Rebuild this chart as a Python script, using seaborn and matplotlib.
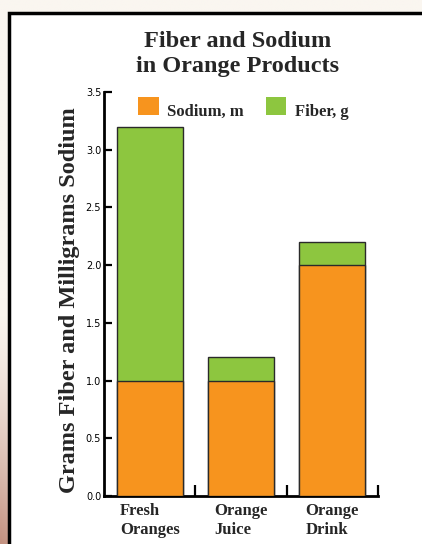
import numpy as np
import pandas as pd
import matplotlib
matplotlib.use("Agg")
import matplotlib.pyplot as plt
from matplotlib.patches import Rectangle, Patch
from matplotlib.transforms import ScaledTranslation
import seaborn as sns

# Chart data
products = ["Fresh\nOranges", "Orange\nJuice", "Orange\nDrink"]
sodium_mg = [1.0, 1.0, 2.0]
fiber_g = [2.2, 0.2, 0.2]
y_ticks = [0.0, 0.5, 1.0, 1.5, 2.0, 2.5, 3.0, 3.5]

ORANGE = "#F7941E"
GREEN = "#8DC63F"
EDGE = "#2a2a2a"

sns.set_theme(style="white")
plt.rcParams["font.family"] = ["Liberation Serif", "DejaVu Serif"]

W, H = 422, 544
fig = plt.figure(figsize=(W / 100, H / 100), dpi=100)

# Soft backdrop: cream at top, warming to a dusky rose toward the lower left
bg = fig.add_axes([0, 0, 1, 1], zorder=0)
yy = np.linspace(0, 1, 200)[:, None]
xx = np.linspace(0, 1, 200)[None, :]
top = np.array([250, 246, 240]) / 255
bot = np.array([195, 145, 128]) / 255
t = np.clip((yy - 0.55) / 0.45, 0, 1) ** 1.5 * np.clip(1 - xx * 3, 0, 1)
img = top[None, None, :] * (1 - t[..., None]) + bot[None, None, :] * t[..., None]
bg.imshow(img, extent=[0, 1, 1, 0], aspect="auto")
bg.set_xlim(0, 1)
bg.set_ylim(1, 0)
bg.axis("off")

# White panel with a dark frame
bg.add_patch(Rectangle((9 / W, 12.5 / H), 1.2, 1.2, facecolor="white",
                       edgecolor="black", linewidth=2.5, zorder=2))

ax = fig.add_axes([104 / W, 1 - 496 / H, 274 / W, 404 / H], zorder=1)
ax.patch.set_alpha(0)

df = pd.DataFrame({
    "product": products,
    "sodium": sodium_mg,
    "fiber": fiber_g,
})
df["total"] = df["sodium"] + df["fiber"]

sns.barplot(data=df, x="product", y="total", color=GREEN, width=0.72,
            edgecolor=EDGE, linewidth=1.0, saturation=1, ax=ax, zorder=2)
sns.barplot(data=df, x="product", y="sodium", color=ORANGE, width=0.72,
            edgecolor=EDGE, linewidth=1.0, saturation=1, ax=ax, zorder=3)

ax.set_xlim(-0.5, 2.5)
ax.set_ylim(0, 3.5)
ax.set_yticks(y_ticks)
ax.set_yticklabels([f"{v:.1f}" for v in y_ticks], family="DejaVu Sans",
                   fontsize=7)
ax.tick_params(axis="y", direction="in", length=6, width=1.6, pad=2,
               left=True, colors="black")
ax.set_xticks([0, 1, 2])
ax.set_xticklabels(products, fontsize=12, fontweight="semibold",
                   multialignment="left", linespacing=1.25)
ax.tick_params(axis="x", which="major", length=0, pad=5)
ax.set_xticks([0.5, 1.5, 2.5], minor=True)
ax.tick_params(axis="x", which="minor", direction="in", length=8, width=1.6,
               bottom=True, colors="black")

for side in ["top", "right"]:
    ax.spines[side].set_visible(False)
for side in ["left", "bottom"]:
    ax.spines[side].set_linewidth(2)
    ax.spines[side].set_color("black")

ax.set_xlabel("")
ax.set_ylabel("Grams Fiber and Milligrams Sodium", fontsize=17.5,
              fontweight="bold", labelpad=10)
ax.yaxis.set_label_coords(-0.088, 0.485)
ax.grid(False)

handles = [Patch(facecolor=ORANGE, edgecolor="none", label="Sodium, m"),
           Patch(facecolor=GREEN, edgecolor="none", label="Fiber, g")]
leg = ax.legend(handles=handles, loc="upper left", bbox_to_anchor=(0.07, 1.025),
                ncol=2, frameon=False, handlelength=1.25, handleheight=1.25,
                columnspacing=1.3, handletextpad=0.5,
                prop={"family": "Liberation Serif", "weight": "bold", "size": 12})
for txt in leg.get_texts():
    txt.set_transform(txt.get_transform()
                      + ScaledTranslation(0, -3.5 / 72, fig.dpi_scale_trans))

fig.text(238 / W, 1 - 54 / H, "Fiber and Sodium\nin Orange Products",
         ha="center", va="center", fontsize=17.5, fontweight="bold",
         linespacing=1.28)

fig.savefig("out.png", dpi=100)
